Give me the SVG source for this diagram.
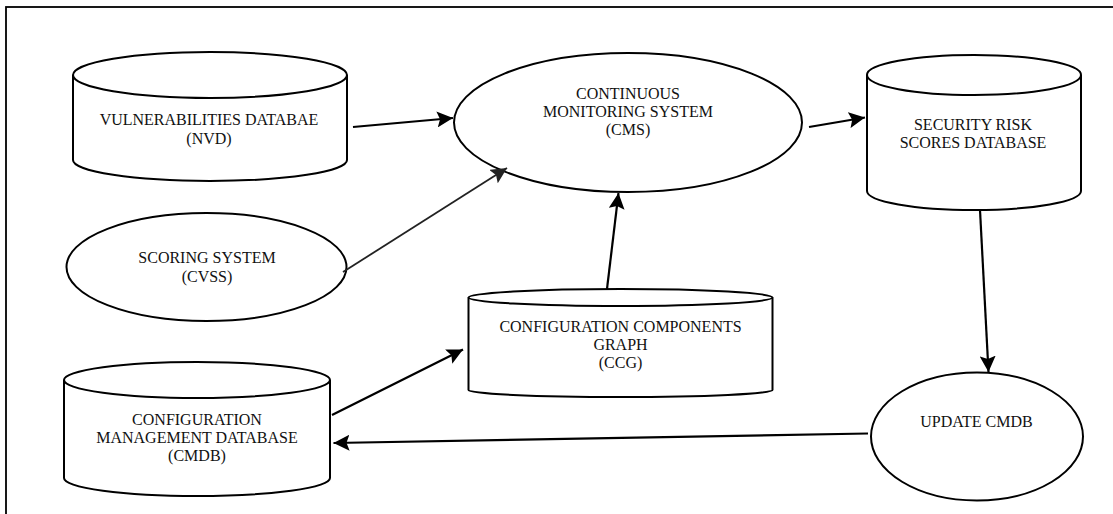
<svg xmlns="http://www.w3.org/2000/svg" width="1113" height="514" viewBox="0 0 1113 514">
<style>
.shape{fill:#fff;stroke:#000;stroke-width:2}
.lbl{font-family:"Liberation Serif","Times New Roman",serif;font-size:16px;fill:#111;text-anchor:middle}
.conn{stroke:#000;stroke-width:2.2;fill:none}
.thin{stroke:#222;stroke-width:1.8;fill:none}
</style>
<defs>
<marker id="ah" markerUnits="userSpaceOnUse" markerWidth="18" markerHeight="16" refX="16" refY="8" orient="auto">
<path d="M0,0 L16,8 L0,16 L3,8 Z" fill="#000"/>
</marker>
<marker id="ah2" markerUnits="userSpaceOnUse" markerWidth="18" markerHeight="16" refX="16" refY="8" orient="auto">
<path d="M0,0 L16,8 L0,16 L3,8 Z" fill="#222"/>
</marker>
</defs>
<rect x="6" y="7" width="1130" height="530" fill="#fff" stroke="#000" stroke-width="1.8"/>
<g id="nvd">
<path class="shape" d="M73,75 L73,160 A137,21 0 0 0 347,160 L347,75"/>
<ellipse class="shape" cx="210" cy="75" rx="137" ry="23"/>
<text class="lbl" x="209" y="125">VULNERABILITIES DATABAE</text>
<text class="lbl" x="209" y="144">(NVD)</text>
</g>
<g id="cms">
<ellipse class="shape" cx="628" cy="122.5" rx="174" ry="69.5"/>
<text class="lbl" x="628" y="99">CONTINUOUS</text>
<text class="lbl" x="628" y="117">MONITORING SYSTEM</text>
<text class="lbl" x="628" y="135">(CMS)</text>
</g>
<g id="srs">
<path class="shape" d="M867,75 L867,191 A107,19 0 0 0 1081,191 L1081,75"/>
<ellipse class="shape" cx="974" cy="75" rx="107" ry="20"/>
<text class="lbl" x="973" y="130">SECURITY RISK</text>
<text class="lbl" x="973" y="148">SCORES DATABASE</text>
</g>
<g id="cvss">
<ellipse class="shape" cx="206.5" cy="267" rx="140" ry="54"/>
<text class="lbl" x="207" y="263">SCORING SYSTEM</text>
<text class="lbl" x="207" y="282">(CVSS)</text>
</g>
<g id="ccg">
<path class="shape" d="M468.5,297.5 L468.5,390 A152,7 0 0 0 772.5,390 L772.5,297.5"/>
<ellipse class="shape" cx="620.5" cy="297.5" rx="152" ry="8.5"/>
<text class="lbl" x="620.5" y="332">CONFIGURATION COMPONENTS</text>
<text class="lbl" x="620.5" y="350">GRAPH</text>
<text class="lbl" x="620.5" y="368">(CCG)</text>
</g>
<g id="cmdb">
<path class="shape" d="M64,380 L64,478 A133,18 0 0 0 330,478 L330,380"/>
<ellipse class="shape" cx="197" cy="380" rx="133" ry="18"/>
<text class="lbl" x="197" y="425">CONFIGURATION</text>
<text class="lbl" x="197" y="443">MANAGEMENT DATABASE</text>
<text class="lbl" x="197" y="461">(CMDB)</text>
</g>
<g id="update">
<ellipse class="shape" cx="977" cy="436.5" rx="106" ry="64"/>
<text class="lbl" x="976.5" y="427">UPDATE CMDB</text>
</g>
<g id="connectors">
<line class="conn" x1="353" y1="127" x2="453" y2="118" marker-end="url(#ah)"/>
<line class="conn" x1="809" y1="127" x2="865" y2="117.5" marker-end="url(#ah)"/>
<line class="thin" x1="343" y1="272" x2="507" y2="168" marker-end="url(#ah2)"/>
<line class="conn" x1="607" y1="289" x2="618.5" y2="193" marker-end="url(#ah)"/>
<line class="conn" x1="332" y1="415" x2="463" y2="349.5" marker-end="url(#ah)"/>
<line class="conn" x1="868" y1="433.5" x2="333.5" y2="443" marker-end="url(#ah)"/>
<line class="conn" x1="980" y1="210" x2="988.5" y2="372" marker-end="url(#ah)"/>
</g>
</svg>
